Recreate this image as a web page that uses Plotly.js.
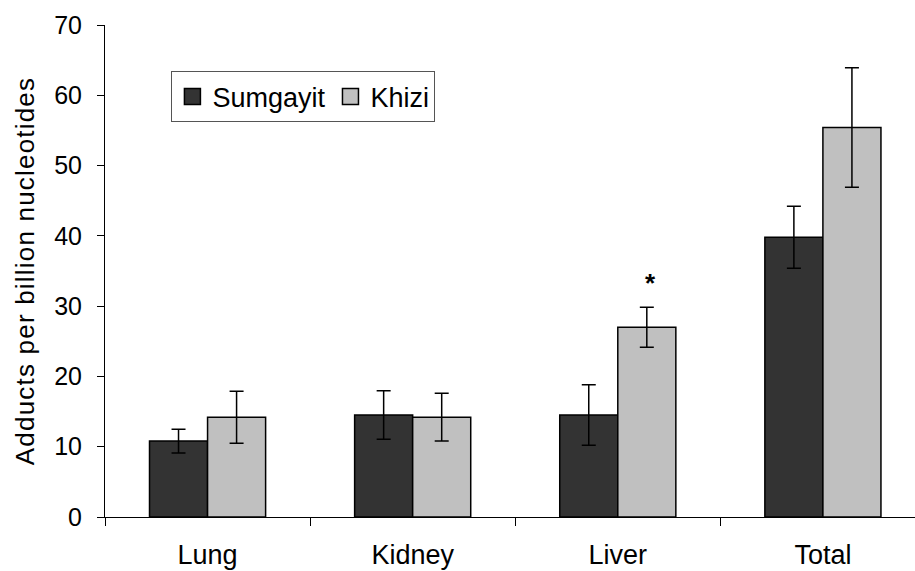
<!DOCTYPE html>
<html>
<head>
<meta charset="utf-8">
<script src="https://cdn.plot.ly/plotly-3.0.1.min.js"></script>
<style>html,body{margin:0;padding:0;background:#fff;}#chart{width:915px;height:571px;}
.ytitle{letter-spacing:1.2px;}</style>
</head>
<body>
<div id="chart"></div>
<script>
const categories = ["Lung", "Kidney", "Liver", "Total"];
const sumgayit = [10.8, 14.5, 14.5, 39.8];
const sumgayitErr = [1.7, 3.45, 4.3, 4.4];
const khizi = [14.2, 14.2, 27.0, 55.4];
const khiziErr = [3.7, 3.4, 2.85, 8.5];
const yTicks = [0, 10, 20, 30, 40, 50, 60, 70];
const seriesNames = ["Sumgayit", "Khizi"];
const seriesColors = ["#333333", "#c0c0c0"];

const fam = "Liberation Sans, Arial, sans-serif";
const font = {family: fam, size: 25, color: "#000"};

const traces = [
  {type: "bar", name: seriesNames[0], x: categories, y: sumgayit, showlegend: false,
   marker: {color: seriesColors[0], line: {color: "#000", width: 1.5}},
   error_y: {type: "data", array: sumgayitErr, visible: true, color: "#000", thickness: 1.5, width: 7}},
  {type: "bar", name: seriesNames[1], x: categories, y: khizi, showlegend: false,
   marker: {color: seriesColors[1], line: {color: "#000", width: 1.5}},
   error_y: {type: "data", array: khiziErr, visible: true, color: "#000", thickness: 1.5, width: 7}},
  {type: "scatter", mode: "markers", name: seriesNames[0], x: [null], y: [null], hoverinfo: "skip",
   marker: {symbol: "square", size: 19, color: seriesColors[0], line: {color: "#000", width: 1.5}}},
  {type: "scatter", mode: "markers", name: seriesNames[1], x: [null], y: [null], hoverinfo: "skip",
   marker: {symbol: "square", size: 19, color: seriesColors[1], line: {color: "#000", width: 1.5}}}
];

const layout = {
  width: 915, height: 571,
  margin: {l: 105, r: 0, t: 25, b: 54},
  paper_bgcolor: "#fff", plot_bgcolor: "#fff",
  font: font,
  barmode: "group",
  bargap: 0.434, bargroupgap: 0,
  showlegend: true,
  legend: {orientation: "h", x: 0.082, y: 0.854, xanchor: "left", yanchor: "middle",
           bordercolor: "#555", borderwidth: 1, bgcolor: "#fff",
           font: {family: fam, size: 27, color: "#000"}, traceorder: "normal"},
  xaxis: {type: "category", range: [-0.5, 3.449], showline: true, linecolor: "#000", linewidth: 1,
          ticks: "outside", tickson: "boundaries", ticklen: 8, tickcolor: "#000",
          showgrid: false, zeroline: false, fixedrange: true, ticklabelstandoff: 14,
          tickfont: {family: fam, size: 27, color: "#000"}},
  yaxis: {range: [0, 70], tickvals: yTicks, showline: true, linecolor: "#000", linewidth: 1,
          ticks: "outside", ticklen: 7, tickcolor: "#000", showgrid: false, zeroline: false,
          ticklabelstandoff: 10,
          tickfont: {family: fam, size: 25, color: "#000"},
          title: {text: "Adducts per billion nucleotides", font: {family: fam, size: 26, color: "#000"}, standoff: 12}},
  annotations: [
    {x: "Liver", y: khizi[2] + khiziErr[2], xref: "x", yref: "y", text: "<b>*</b>", showarrow: false,
     xshift: 33, yshift: 24, font: {family: fam, size: 26, color: "#000"}}
  ]
};

Plotly.newPlot("chart", traces, layout, {displayModeBar: false, staticPlot: true});
</script>
</body>
</html>
